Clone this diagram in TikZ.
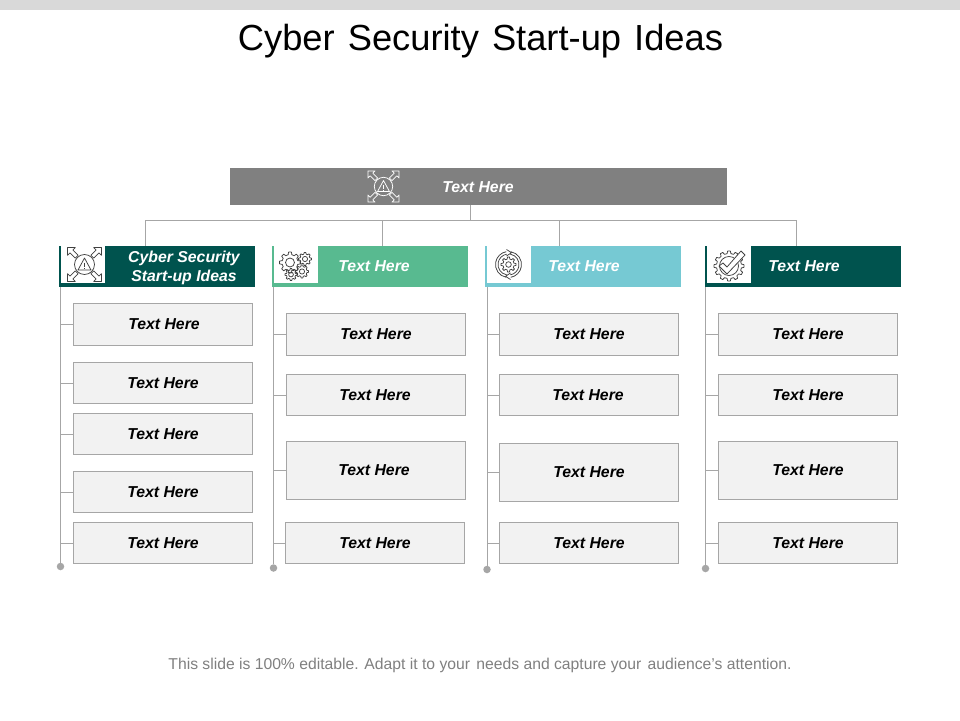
\documentclass[tikz,border=0pt]{standalone}
\usepackage{fontspec}
\setmainfont{Liberation Sans}
\definecolor{dk}{HTML}{00534E}
\definecolor{gn}{HTML}{58BA90}
\definecolor{cy}{HTML}{76C9D3}
\definecolor{ln}{HTML}{A6A6A6}
\definecolor{bx}{HTML}{F2F2F2}
\definecolor{bar}{HTML}{808080}
\definecolor{icn}{HTML}{404040}
\tikzset{
  conn/.style={draw=ln,line width=0.8pt},
  txtbox/.style={draw=ln,fill=bx,line width=0.7pt,inner sep=0pt,font=\fontsize{15.8}{18}\selectfont\bfseries\itshape,text=black},
  headtxt/.style={inner sep=0pt,align=center,text=white,font=\fontsize{15.8}{19.5}\selectfont\bfseries\itshape},
  iconline/.style={line width=0.75pt,line join=round},
  dotend/.style={circle,fill=ln,minimum size=7.5pt,inner sep=0pt}
}
% [#1 text offset], #2 name, #3 x1, #4 y1, #5 x2, #6 y2
\newcommand\tbox[6][0]{\node[txtbox,minimum width=#5pt-#3pt-0.7pt,minimum height=#6pt-#4pt-0.7pt] (#2) at ({(#3+#5)/2},{(#4+#6)/2}) {\kern#1pt Text Here};}
% #1 name, #2 colour, #3 x1, #4 x2
\newcommand\head[4]{%
  \node[fill=#2,inner sep=0pt,minimum width=#4pt-#3pt,minimum height=41pt] (#1) at ({(#3+#4)/2},266.5) {};
  \fill[white] (#3+1.5,245.5) rectangle (#3+46,283);}
% arrows-with-warning icon: #1 x, #2 y, #3 colour, #4 scale
\newcommand\iconwarn[4]{%
  \begin{scope}[shift={(#1,#2)},scale=#4,draw=#3,iconline]
    \draw (0,0) circle (10);
    \draw (-6.5,5.5) -- (0,-6.5) -- (6.5,5.5) -- cycle;
    \draw (0,-2) -- (0,2.5) (0,3.6) -- (0,4.4);
    \foreach \r in {45,135,225,315}
      \draw[rotate=\r] (11,-2) -- (18.5,-2) -- (18.5,-5.5) -- (24,0) -- (18.5,5.5) -- (18.5,2) -- (11,2) -- cycle;
  \end{scope}}
% gear outline: #1 x, #2 y, #3 outer r, #4 root r, #5 teeth, #6 hole r
\newcommand\gearshape[6]{%
  \pgfmathsetmacro\gs{360/#5}
  \pgfmathsetmacro\gl{int(#5-1)}
  \draw[icn,iconline,shift={(#1,#2)}] (-.3*\gs:#4)
    \foreach \i in {0,...,\gl} {
      -- ({\i*\gs-.3*\gs}:#4) -- ({\i*\gs-.17*\gs}:#3) -- ({\i*\gs+.17*\gs}:#3) -- ({\i*\gs+.3*\gs}:#4)
    } -- cycle (0,0) circle (#6);}
\newcommand\icongears{%
  \gearshape{290}{262.5}{10.5}{8}{8}{4.5}
  \gearshape{305}{259}{6.5}{5}{8}{2.6}
  \gearshape{302}{271.5}{6.5}{5}{8}{2.6}
  \gearshape{291}{274.5}{6}{4.6}{8}{2.4}}
\newcommand\iconcycle{%
  \gearshape{508.5}{264.5}{7.5}{5.6}{8}{2.8}
  \begin{scope}[shift={(508.5,264.5)},icn,iconline]
    \draw (100:10.5) arc[start angle=100,end angle=260,radius=10.5];
    \draw (100:13) arc[start angle=100,end angle=260,radius=13];
    \draw (-80:10.5) arc[start angle=-80,end angle=80,radius=10.5];
    \draw (-80:13) arc[start angle=-80,end angle=80,radius=13];
    \draw (-2,-15) -- (3,-11.8) -- (-2,-8.5);
    \draw (2,15) -- (-3,11.8) -- (2,8.5);
  \end{scope}}
\newcommand\iconcheck{%
  \gearshape{729}{266}{15}{12.5}{12}{9.5}
  \begin{scope}[shift={(729,266)}]
    \fill[white] (-6,-3) -- (-2,1) -- (12,-15) -- (16,-11) -- (-2,8) -- (-10,0) -- cycle;
    \draw[icn,iconline] (-6,-3) -- (-2,1) -- (12,-15) -- (16,-11) -- (-2,8) -- (-10,0) -- cycle;
  \end{scope}}
\begin{document}
\begin{tikzpicture}[x=1pt,y=-1pt]
\useasboundingbox (0,0) rectangle (960,720);
\fill[white] (0,0) rectangle (960,720);
\fill[black!15] (0,0) rectangle (960,10);
\node[inner sep=0pt,font=\fontsize{36.3}{40}\selectfont,text=black] (title) at (480.5,41) {Cyber\hspace{3pt} Security\hspace{3pt} Start-up\hspace{3pt} Ideas};

% top bar
\node[fill=bar,inner sep=0pt,minimum width=497pt,minimum height=37pt] (top) at (478.5,186.5) {};
\iconwarn{383.5}{186.5}{white}{0.92}
\node[headtxt] (toptxt) at (478,187.5) {Text Here};

% headers
\head{h1}{dk}{59}{255}
\head{h2}{gn}{272}{468}
\head{h3}{cy}{485}{681}
\head{h4}{dk}{705}{901}
\iconwarn{84.5}{264.5}{icn}{1}
\icongears
\iconcycle
\iconcheck
\node[headtxt] (t1) at (184,267.7) {Cyber Security\\Start-up Ideas};
\node[headtxt] (t2) at (374,266.5) {Text Here};
\node[headtxt] (t3) at (584,266.5) {Text Here};
\node[headtxt] (t4) at (804,266.5) {Text Here};

% bus
\coordinate (busT) at (470,220);
\coordinate (bus1) at (145.5,220);
\coordinate (bus2) at (382.5,220);
\coordinate (bus3) at (559.5,220);
\coordinate (bus4) at (796.5,220);
\draw[conn] (top.south -| busT) -- (busT);
\draw[conn] (bus1) -- (bus4);
\draw[conn] (bus1) -- (bus1 |- h1.north);
\draw[conn] (bus2) -- (bus2 |- h2.north);
\draw[conn] (bus3) -- (bus3 |- h3.north);
\draw[conn] (bus4) -- (bus4 |- h4.north);

% column 1
\tbox[2]{a1}{73}{303}{253}{346}
\tbox{a2}{73}{362}{253}{404}
\tbox{a3}{73}{413}{253}{455}
\tbox{a4}{73}{471}{253}{513}
\tbox{a5}{73}{522}{253}{564}
% column 2
\tbox{b1}{286}{313}{466}{356}
\tbox[-2]{b2}{286}{374}{466}{416}
\tbox[-4]{b3}{286}{441}{466}{500}
\tbox{b4}{285}{522}{465}{564}
% column 3
\tbox{c1}{499}{313}{679}{356}
\tbox[-2]{c2}{499}{374}{679}{416}
\tbox{c3}{499}{443}{679}{502}
\tbox{c4}{499}{522}{679}{564}
% column 4
\tbox{d1}{718}{313}{898}{356}
\tbox{d2}{718}{374}{898}{416}
\tbox{d3}{718}{441}{898}{500}
\tbox{d4}{718}{522}{898}{564}

% trunks and end dots
\node[dotend] (e1) at (60.5,566.5) {};
\node[dotend] (e2) at (273.5,568) {};
\node[dotend] (e3) at (487,569.5) {};
\node[dotend] (e4) at (705.5,568.5) {};
\draw[conn] (e1 |- h1.south) -- (e1);
\draw[conn] (e2 |- h2.south) -- (e2);
\draw[conn] (e3 |- h3.south) -- (e3);
\draw[conn] (e4 |- h4.south) -- (e4);
\foreach \n in {a1,a2,a3,a4,a5} \draw[conn] (\n.west) -- (\n.west -| e1);
\foreach \n in {b1,b2,b3,b4} \draw[conn] (\n.west) -- (\n.west -| e2);
\foreach \n in {c1,c2,c3,c4} \draw[conn] (\n.west) -- (\n.west -| e3);
\foreach \n in {d1,d2,d3,d4} \draw[conn] (\n.west) -- (\n.west -| e4);

\node[inner sep=0pt,text=black!50,font=\fontsize{15.7}{18}\selectfont] (foot) at (480,665.5) {This slide is 100\% editable. Adapt it to your\hspace{2pt} needs and capture your\hspace{2pt} audience's attention.};
\end{tikzpicture}
\end{document}
